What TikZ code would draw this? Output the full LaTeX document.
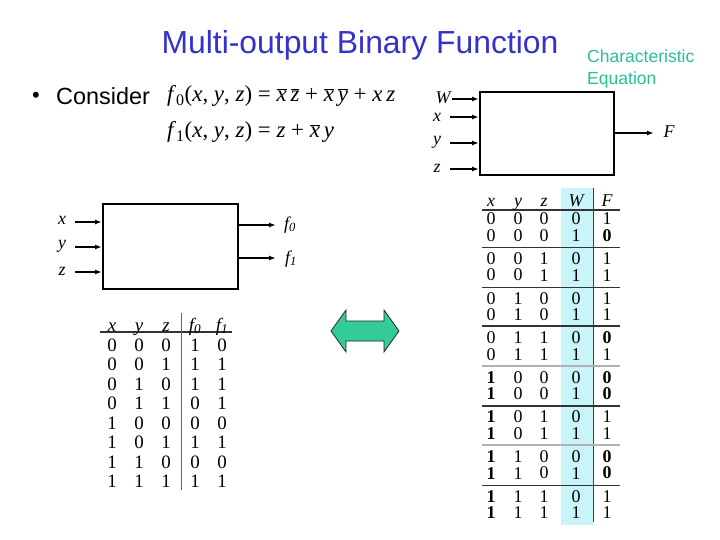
\documentclass[tikz,border=0pt]{standalone}
\usepackage{fontspec}
\setmainfont{Liberation Sans}
\newfontfamily\tms{Liberation Serif}
\usetikzlibrary{arrows.meta}
\definecolor{titleblue}{RGB}{51,51,204}
\definecolor{tealtxt}{RGB}{40,190,150}
\definecolor{arrowgreen}{RGB}{51,204,153}
\definecolor{colcyan}{RGB}{200,245,250}
\newcommand{\ovl}[1]{$\overline{\hbox{\itshape #1}}$}
\begin{document}
\begin{tikzpicture}[x=1bp,y=-1bp,
  blockbox/.style={draw, line width=2bp, inner sep=0pt},
  arr/.style={-{Latex[length=7bp,width=5bp]}, line width=1.5bp},
  lbl/.style={font=\tms\itshape\fontsize{18}{18}\selectfont, inner sep=0pt},
  dig/.style={font=\tms\fontsize{19}{19}\selectfont, inner sep=0pt},
  bdig/.style={font=\tms\fontsize{18}{18}\selectfont, inner sep=0pt},
  hdr/.style={font=\tms\itshape\fontsize{19}{19}\selectfont, inner sep=0pt, anchor=base},
  bhdr/.style={font=\tms\itshape\fontsize{18}{18}\selectfont, inner sep=0pt, anchor=base},
  eqn/.style={font=\tms\fontsize{23}{23}\selectfont, inner sep=0pt, anchor=west}]
\useasboundingbox (0,0) rectangle (720,540);

% title and texts
\node[font=\fontsize{32}{34}\selectfont, text=titleblue, inner sep=0pt] (title) at (360,45) {Multi-output Binary Function};
\node[font=\fontsize{22}{22}\selectfont, inner sep=0pt] (bullet) at (36,97) {•};
\node[font=\fontsize{23.5}{25}\selectfont, inner sep=0pt, anchor=west] (consider) at (56,96) {Consider};
\node[font=\fontsize{17.6}{22}\selectfont, text=tealtxt, inner sep=0pt, anchor=north west, align=left] (chareq) at (587,50) {Characteristic\\Equation};

\node[eqn] (eq0) at (167,96) {\textit{f}\textsubscript{0}(\textit{x}, \textit{y}, \textit{z}) = \ovl{x}\,\ovl{z} + \ovl{x}\,\ovl{y} + \textit{x}\,\textit{z}};
\node[eqn] (eq1) at (167,132) {\textit{f}\textsubscript{1}(\textit{x}, \textit{y}, \textit{z}) = \textit{z} + \ovl{x}\,\textit{y}};

% left box
\node[blockbox, minimum width=135bp, minimum height=85bp] (lbox) at (170.5,246.5) {};
\coordinate (lxs) at (75,222);
\coordinate (lys) at (75,247);
\coordinate (lzs) at (75,272);
\draw[arr] (lxs) -- (lxs -| lbox.west);
\draw[arr] (lys) -- (lys -| lbox.west);
\draw[arr] (lzs) -- (lzs -| lbox.west);
\node[lbl] (llx) at (62,220) {x};
\node[lbl] (lly) at (62,246) {y};
\node[lbl] (llz) at (62,271) {z};
\coordinate (f0e) at (276,225);
\coordinate (f1e) at (276,258);
\draw[arr] (lbox.east |- f0e) -- (f0e);
\draw[arr] (lbox.east |- f1e) -- (f1e);
\node[lbl, anchor=west] (lf0) at (284,225) {f\textsubscript{0}};
\node[lbl, anchor=west] (lf1) at (285,259) {f\textsubscript{1}};

% right box
\node[blockbox, minimum width=134bp, minimum height=83bp] (rbox) at (547,133.5) {};
\coordinate (rws) at (452,99);
\coordinate (rxs) at (450,117);
\coordinate (rys) at (450,143);
\coordinate (rzs) at (450,169);
\draw[arr] (rws) -- (rws -| rbox.west);
\draw[arr] (rxs) -- (rxs -| rbox.west);
\draw[arr] (rys) -- (rys -| rbox.west);
\draw[arr] (rzs) -- (rzs -| rbox.west);
\node[lbl] (rlw) at (443,98) {W};
\node[lbl] (rlx) at (437,117) {x};
\node[lbl] (rly) at (437,142) {y};
\node[lbl] (rlz) at (437,168) {z};
\coordinate (rfe) at (654,133);
\draw[arr] (rbox.east |- rfe) -- (rfe);
\node[lbl] (rlf) at (669,132) {F};

% double arrow
\draw[fill=arrowgreen, line width=0.8bp, draw=black!85] (331,331) -- (346,310) -- (346,321) -- (384,321) -- (384,310) -- (399,331) -- (384,352) -- (384,341) -- (346,341) -- (346,352) -- cycle;

% small table
\draw[line width=2bp, black!80] (100,332) -- (232,332);
\draw[line width=0.8bp, black!60] (181,313) -- (181,490);
\node[hdr] (sh1) at (112,331) {x};
\node[hdr] (sh2) at (139,331) {y};
\node[hdr] (sh3) at (166,331) {z};
\node[hdr] (sh4) at (195,331) {f\textsubscript{0}};
\node[hdr] (sh5) at (222,331) {f\textsubscript{1}};
\foreach \a/\b/\c/\d/\e [count=\i from 0] in {0/0/0/1/0,0/0/1/1/1,0/1/0/1/1,0/1/1/0/1,1/0/0/0/0,1/0/1/1/1,1/1/0/0/0,1/1/1/1/1}{
  \pgfmathsetmacro\yy{345+19.5*\i}
  \node[dig] (sa\i) at (112,\yy) {\a};
  \node[dig] (sb\i) at (139,\yy) {\b};
  \node[dig] (sc\i) at (166,\yy) {\c};
  \node[dig] (sd\i) at (195,\yy) {\d};
  \node[dig] (se\i) at (222,\yy) {\e};
}

% big table
\fill[colcyan] (561,188) rectangle (593,525);
\draw[line width=1.5bp, black!80] (482,210) -- (620,210);
\draw[line width=0.9bp, black!75] (593,188) -- (593,522);
\draw[line width=0.9bp, black!80] (482,247) -- (620,247);
\draw[line width=0.9bp, black!80] (482,287) -- (620,287);
\draw[line width=1.8bp, black!80] (482,326) -- (620,326);
\draw[line width=1.5bp, black!30] (482,366) -- (620,366);
\draw[line width=1.8bp, black!80] (482,406) -- (620,406);
\draw[line width=1.5bp, black!30] (482,445) -- (620,445);
\draw[line width=0.9bp, black!80] (482,485) -- (620,485);
\node[bhdr] (bh1) at (491,207) {x};
\node[bhdr] (bh2) at (518,207) {y};
\node[bhdr] (bh3) at (544,207) {z};
\node[bhdr] (bh4) at (576,207) {W};
\node[bhdr] (bh5) at (607,207) {F};
\foreach \a/\b/\c/\d/\e [count=\i from 0] in {0/0/0/0/1,0/0/0/1/0,0/0/1/0/1,0/0/1/1/1,0/1/0/0/1,0/1/0/1/1,0/1/1/0/0,0/1/1/1/1,1/0/0/0/0,1/0/0/1/0,1/0/1/0/1,1/0/1/1/1,1/1/0/0/0,1/1/0/1/0,1/1/1/0/1,1/1/1/1/1}{
  \pgfmathsetmacro\yy{219+39.6*floor(\i/2)+16.5*mod(\i,2)}
  \node[bdig] (ba\i) at (491,\yy) {\ifnum\a=1 \bfseries\fi\a};
  \node[bdig] (bb\i) at (518,\yy) {\b};
  \node[bdig] (bc\i) at (544,\yy) {\c};
  \node[bdig] (bd\i) at (576,\yy) {\d};
  \node[bdig] (be\i) at (607,\yy) {\ifnum\e=0 \bfseries\fi\e};
}
\end{tikzpicture}
\end{document}
